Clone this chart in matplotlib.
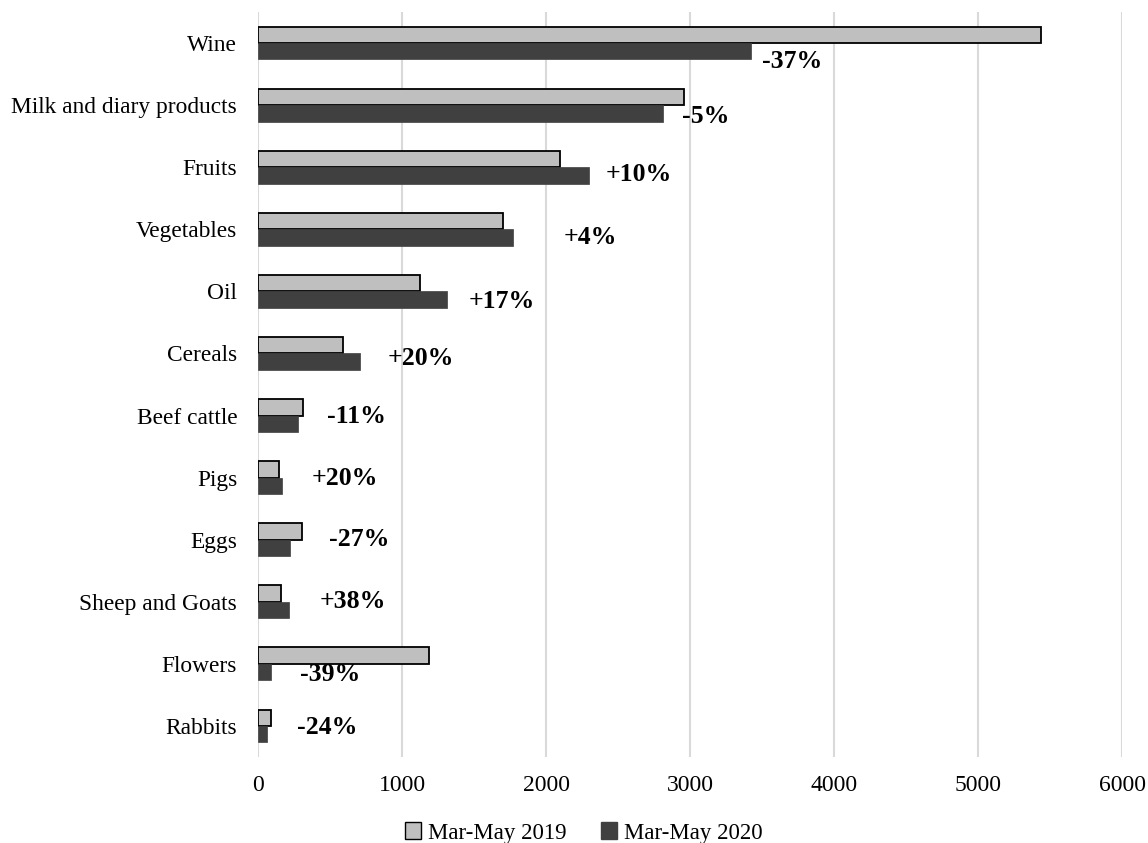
import matplotlib
matplotlib.use("Agg")
import matplotlib.pyplot as plt
import numpy as np
from matplotlib.patches import Patch

plt.rcParams['font.family'] = ['Liberation Serif', 'DejaVu Serif']

categories = ["Wine", "Milk and diary products", "Fruits", "Vegetables", "Oil",
              "Cereals", "Beef cattle", "Pigs", "Eggs", "Sheep and Goats",
              "Flowers", "Rabbits"]
values_2019 = [5437, 2956, 2094, 1699, 1122, 592, 312, 143, 305, 157, 1187, 90]
values_2020 = [3421, 2813, 2296, 1768, 1312, 708, 278, 170, 222, 215, 88, 65]
change_labels = ["-37%", "-5%", "+10%", "+4%", "+17%", "+20%", "-11%", "+20%",
                 "-27%", "+38%", "-39%", "-24%"]
series_names = ["Mar-May 2019", "Mar-May 2020"]
x_ticks = [0, 1000, 2000, 3000, 4000, 5000, 6000]

# where each change label sits (x in data units, y shift in category units)
label_x = [3500, 2944, 2412, 2120, 1460, 903, 479, 375, 490, 428, 289, 271]
label_dy = [0.29, 0.18, 0.11, 0.14, 0.16, 0.08, 0.02, 0.02, 0.0, 0.0, 0.17, 0.02]

light = "#bfbfbf"
dark = "#404040"

fig = plt.figure(figsize=(11.48, 8.43), dpi=100)
ax = fig.add_axes([258 / 1148, 1 - 757 / 843, (1122 - 258) / 1148, (757 - 12) / 843])

y = np.arange(len(categories))
h = 0.265
ax.barh(y - h / 2, values_2019, height=h, color=light, edgecolor="black",
        linewidth=1.3, zorder=3)
ax.barh(y + h / 2, values_2020, height=h, color=dark, edgecolor=dark,
        linewidth=0.5, zorder=3)

for i, lab in enumerate(change_labels):
    ax.text(label_x[i], y[i] + label_dy[i], lab, fontsize=18.5, fontweight="bold",
            ha="left", va="center", zorder=4)

ax.set_xlim(0, 6000)
ax.set_ylim(len(categories) - 0.5, -0.5)
ax.set_xticks(x_ticks)
ax.set_xticklabels([str(t) for t in x_ticks])
ax.set_yticks(y)
ax.set_yticklabels(categories)
ax.tick_params(axis="x", length=0, pad=13, labelsize=17)
ax.tick_params(axis="y", length=0, pad=15, labelsize=16.8)
ax.grid(axis="x", color="#d9d9d9", linewidth=1.5, zorder=0)
ax.set_axisbelow(True)
for s in ax.spines.values():
    s.set_visible(False)

handles = [Patch(facecolor=light, edgecolor="black", linewidth=1.0),
           Patch(facecolor=dark, edgecolor=dark)]
fig.legend(handles, series_names, loc="center", bbox_to_anchor=(584 / 1148, 1 - 833 / 843),
           ncol=2, frameon=False, fontsize=16.5, handlelength=0.7, handleheight=0.7,
           handletextpad=0.3, columnspacing=1.5)

fig.savefig("out.png", dpi=100)
